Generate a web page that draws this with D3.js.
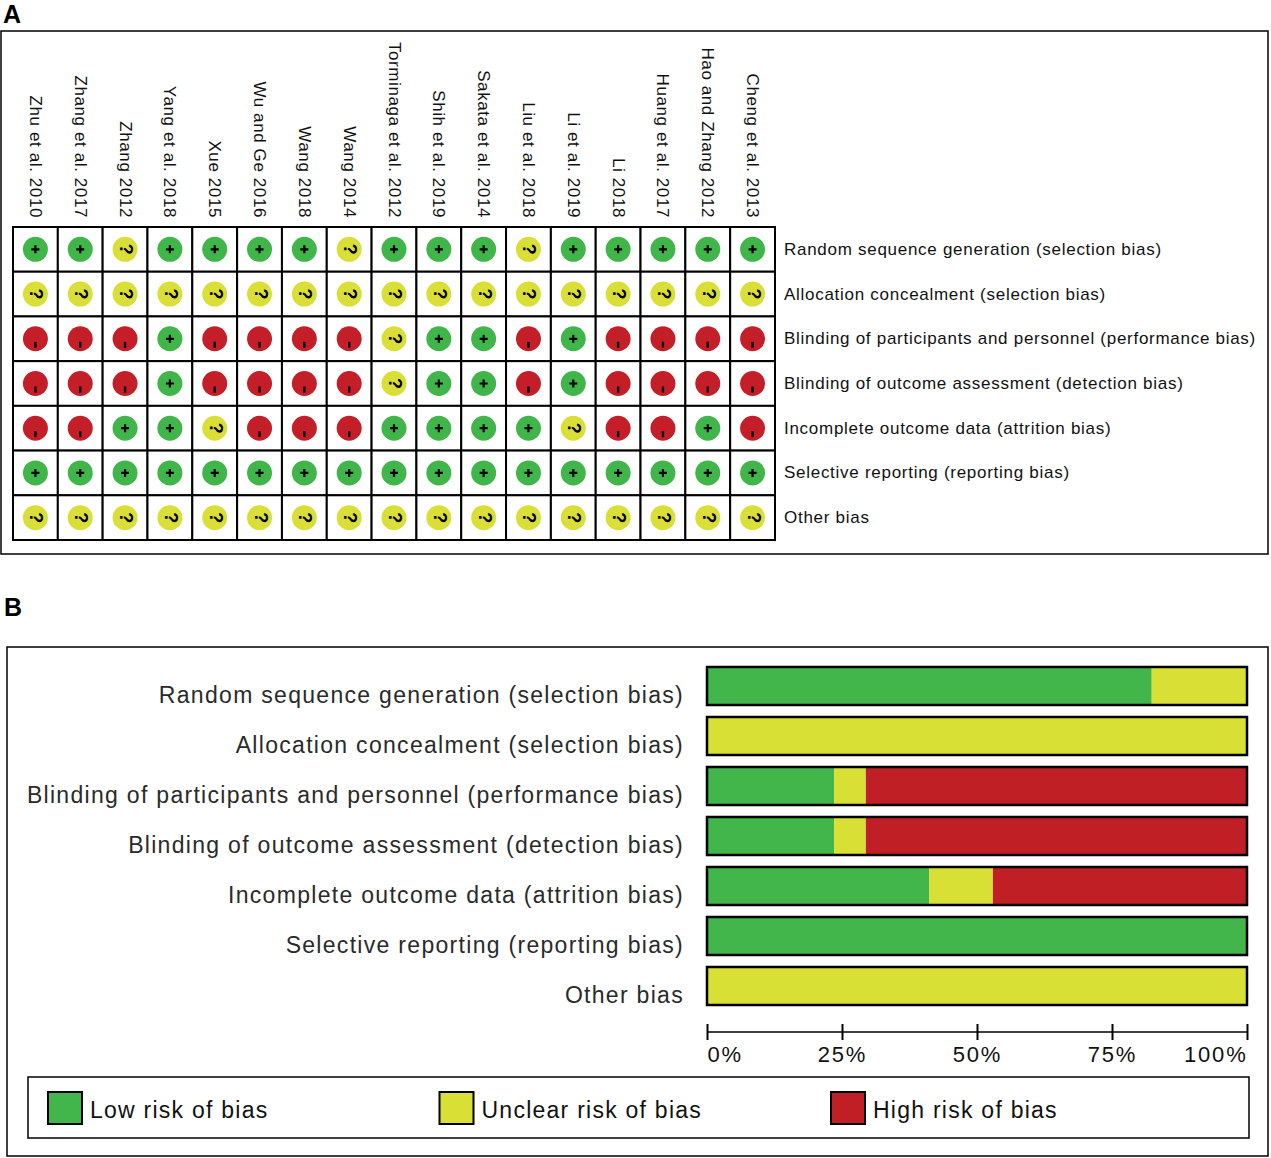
<!DOCTYPE html>
<html><head><meta charset="utf-8">
<script src="https://cdn.jsdelivr.net/npm/d3@7/dist/d3.min.js"></script>
<style>
html,body{margin:0;padding:0;background:#fff;}
svg{display:block;font-family:"Liberation Sans",Arial,sans-serif;}
</style></head>
<body>
<svg id="chart" width="1271" height="1158"></svg>
<script>
const studies = ["Zhu et al. 2010","Zhang et al. 2017","Zhang 2012","Yang et al. 2018","Xue 2015","Wu and Ge 2016","Wang 2018","Wang 2014","Torminaga et al. 2012","Shih et al. 2019","Sakata et al. 2014","Liu et al. 2018","Li et al. 2019","Li 2018","Huang et al. 2017","Hao and Zhang 2012","Cheng et al. 2013"];
const domains = ["Random sequence generation (selection bias)","Allocation concealment (selection bias)","Blinding of participants and personnel (performance bias)","Blinding of outcome assessment (detection bias)","Incomplete outcome data (attrition bias)","Selective reporting (reporting bias)","Other bias"];
// judgments per domain, one per study (+ low, ? unclear, - high)
const randomSequence   = ["+","+","?","+","+","+","+","?","+","+","+","?","+","+","+","+","+"];
const allocation       = ["?","?","?","?","?","?","?","?","?","?","?","?","?","?","?","?","?"];
const blindingPart     = ["-","-","-","+","-","-","-","-","?","+","+","-","+","-","-","-","-"];
const blindingOutcome  = ["-","-","-","+","-","-","-","-","?","+","+","-","+","-","-","-","-"];
const incompleteData   = ["-","-","+","+","?","-","-","-","+","+","+","+","?","-","-","+","-"];
const selectiveReport  = ["+","+","+","+","+","+","+","+","+","+","+","+","+","+","+","+","+"];
const otherBias        = ["?","?","?","?","?","?","?","?","?","?","?","?","?","?","?","?","?"];
const judgments = [randomSequence, allocation, blindingPart, blindingOutcome, incompleteData, selectiveReport, otherBias];
const riskKeys = ["+","?","-"];
const riskLabels = ["Low risk of bias","Unclear risk of bias","High risk of bias"];
const tickValues = [0,0.25,0.5,0.75,1];

const colors = {"+":"#3fb54a","?":"#d9df36","-":"#c41f28"};
const barColors = {"+":"#42b54b","?":"#d9e035","-":"#c11f26"};

const svg = d3.select("#chart");

// ---------- Panel A ----------
svg.append("text").attr("x",3).attr("y",23).attr("font-size",25).attr("font-weight","bold").text("A");
svg.append("rect").attr("x",1).attr("y",31).attr("width",1267).attr("height",523).attr("fill","none").attr("stroke","#000").attr("stroke-width",1.5);

const xA = d3.scaleBand().domain(studies).range([13,775]);
const yA = d3.scaleBand().domain(domains).range([227,540]);

// column headers
svg.append("g").selectAll("text").data(studies).join("text")
  .attr("transform", d => `translate(${xA(d)+xA.bandwidth()/2},218) rotate(90)`)
  .attr("text-anchor","end").attr("dominant-baseline","central")
  .attr("font-size",17).attr("letter-spacing",0.6).attr("fill","#111")
  .text(d=>d);

// row labels
svg.append("g").selectAll("text").data(domains).join("text")
  .attr("x",784).attr("y",d=>yA(d)+yA.bandwidth()/2)
  .attr("dominant-baseline","central")
  .attr("font-size",17).attr("letter-spacing",0.72).attr("fill","#111")
  .text(d=>d);

// cells
const cells = [];
judgments.forEach((row,i)=>row.forEach((v,j)=>cells.push({d:domains[i],s:studies[j],v})));
const gCells = svg.append("g");
gCells.selectAll("rect").data(cells).join("rect")
  .attr("x",d=>xA(d.s)).attr("y",d=>yA(d.d))
  .attr("width",xA.bandwidth()).attr("height",yA.bandwidth())
  .attr("fill","#fff").attr("stroke","#000").attr("stroke-width",2);
const cx = d=>xA(d.s)+xA.bandwidth()/2, cy = d=>yA(d.d)+yA.bandwidth()/2;
gCells.selectAll("circle").data(cells).join("circle")
  .attr("cx",cx).attr("cy",cy).attr("r",12.5).attr("fill",d=>colors[d.v]);
// symbols
cells.forEach(d=>{
  const x=cx(d), y=cy(d);
  if(d.v==="+"){
    gCells.append("path").attr("d",`M${x-4},${y}H${x+4}M${x},${y-4}V${y+4}`).attr("stroke","#000").attr("stroke-width",2.2);
  } else if(d.v==="-"){
    gCells.append("path").attr("d",`M${x},${y+3}V${y+9}`).attr("stroke","#000").attr("stroke-width",2.4);
  } else {
    gCells.append("text").attr("transform",`translate(${x+1},${y}) rotate(90)`)
      .attr("text-anchor","middle").attr("dominant-baseline","central")
      .attr("font-size",18).attr("font-weight","bold").attr("fill","#000").text("?");
  }
});

// ---------- Panel B ----------
svg.append("text").attr("x",4).attr("y",616).attr("font-size",25).attr("font-weight","bold").text("B");
svg.append("rect").attr("x",7).attr("y",647).attr("width",1261).attr("height",509).attr("fill","none").attr("stroke","#000").attr("stroke-width",1.5);

const xB = d3.scaleLinear().domain([0,1]).range([707,1247]);
const yB = d3.scaleBand().domain(domains).range([667,1005]).paddingInner(0.24);

// stacked proportions from judgments
const stackData = domains.map((d,i)=>{
  const o={domain:d};
  riskKeys.forEach(k=>o[k]=judgments[i].filter(v=>v===k).length/judgments[i].length);
  return o;
});
const series = d3.stack().keys(riskKeys)(stackData);
const gBars = svg.append("g");
series.forEach(s=>{
  gBars.append("g").attr("fill",barColors[s.key]).selectAll("rect").data(s).join("rect")
    .attr("x",d=>xB(d[0])).attr("width",d=>xB(d[1])-xB(d[0]))
    .attr("y",d=>yB(d.data.domain)).attr("height",yB.bandwidth());
});
gBars.append("g").selectAll("rect").data(domains).join("rect")
  .attr("x",xB(0)).attr("width",xB(1)-xB(0)).attr("y",d=>yB(d)).attr("height",yB.bandwidth())
  .attr("fill","none").attr("stroke","#000").attr("stroke-width",2.5);

// labels
svg.append("g").selectAll("text").data(domains).join("text")
  .attr("x",684).attr("y",d=>yB(d)+yB.bandwidth()/2+9)
  .attr("text-anchor","end").attr("dominant-baseline","central")
  .attr("font-size",23).attr("letter-spacing",1.3).attr("fill","#2a2a2a")
  .text(d=>d);

// axis
const axis = d3.axisBottom(xB).tickValues(tickValues).tickFormat(d3.format(".0%")).tickSize(8).tickPadding(6);
const gAxis = svg.append("g").attr("transform","translate(0,1032)").call(axis);
gAxis.select(".domain").attr("d",`M${xB(0)},0H${xB(1)}`).attr("stroke","#000").attr("stroke-width",1.5);
gAxis.selectAll(".tick line").attr("y1",-8).attr("y2",8).attr("stroke","#000").attr("stroke-width",2);
gAxis.selectAll(".tick text").attr("font-size",22).attr("letter-spacing",1.8).attr("fill","#111")
  .attr("font-family","Liberation Sans, Arial").attr("y",14)
  .attr("text-anchor",(d,i)=> i===0?"start":(i===tickValues.length-1?"end":"middle"));

// legend
svg.append("rect").attr("x",28).attr("y",1077).attr("width",1221).attr("height",61).attr("fill","none").attr("stroke","#000").attr("stroke-width",1.5);
const legX = d3.scalePoint().domain(riskKeys).range([48,831]);
const leg = svg.append("g").selectAll("g").data(riskKeys).join("g").attr("transform",d=>`translate(${legX(d)},1092)`);
leg.append("rect").attr("width",34).attr("height",32).attr("fill",d=>barColors[d]).attr("stroke","#000").attr("stroke-width",2);
leg.append("text").attr("x",42).attr("y",18).attr("dominant-baseline","central")
  .attr("font-size",23).attr("letter-spacing",1.25).attr("fill","#111").text((d,i)=>riskLabels[i]);
</script>
</body></html>
